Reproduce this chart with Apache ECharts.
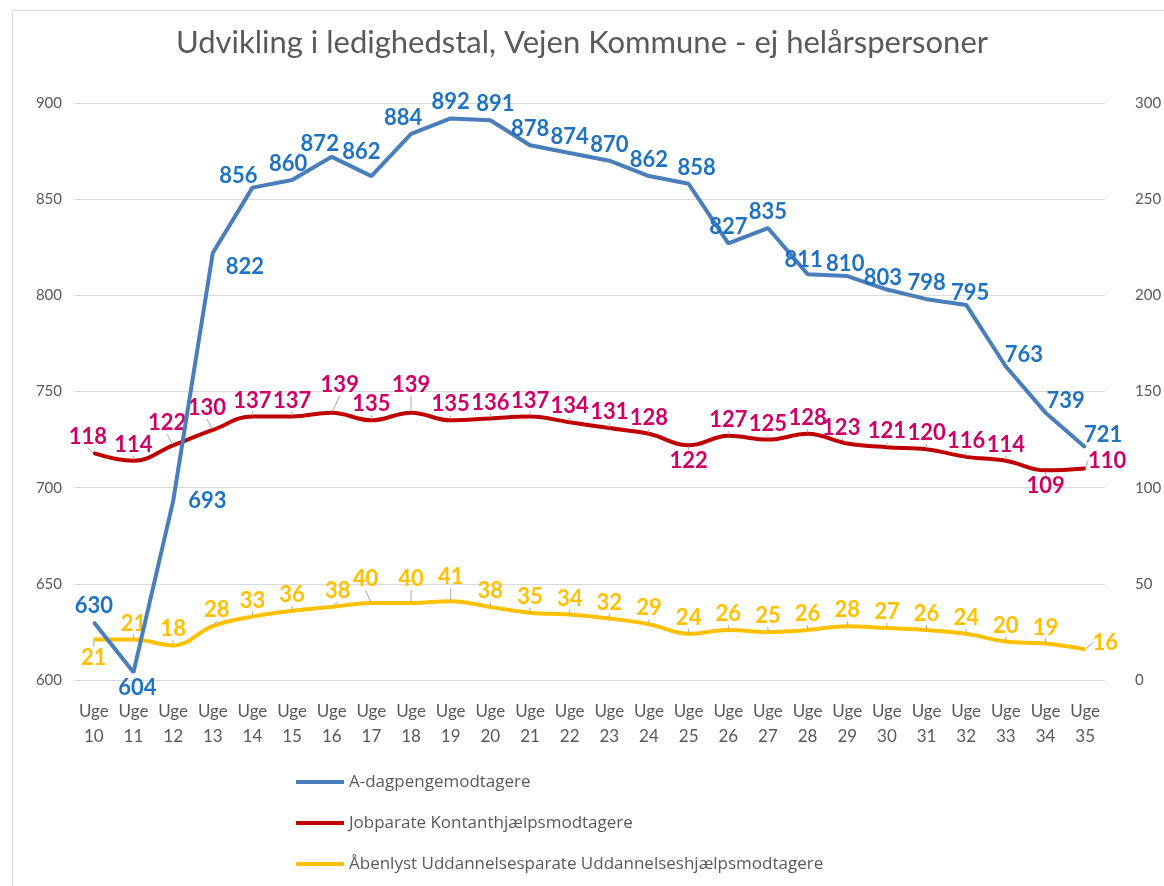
<!DOCTYPE html>
<html>
<head>
<meta charset="utf-8">
<script src="https://cdn.jsdelivr.net/npm/echarts@6/dist/echarts.min.js"></script>
<style>
  html, body { margin: 0; padding: 0; background: #fff; }
  #chart { width: 1164px; height: 886px; }
</style>
</head>
<body>
<div id="chart"></div>
<script>
const weeks = ['Uge 10','Uge 11','Uge 12','Uge 13','Uge 14','Uge 15','Uge 16','Uge 17','Uge 18','Uge 19','Uge 20','Uge 21','Uge 22','Uge 23','Uge 24','Uge 25','Uge 26','Uge 27','Uge 28','Uge 29','Uge 30','Uge 31','Uge 32','Uge 33','Uge 34','Uge 35']
const dagpenge = [630,604,693,822,856,860,872,862,884,892,891,878,874,870,862,858,827,835,811,810,803,798,795,763,739,721]
const kontant = [118,114,122,130,137,137,139,135,139,135,136,137,134,131,128,122,127,125,128,123,121,120,116,114,109,110]
const uddannelse = [21,21,18,28,33,36,38,40,40,41,38,35,34,32,29,24,26,25,26,28,27,26,24,20,19,16]
const seriesNames = ['A-dagpengemodtagere', 'Jobparate Kontanthjælpsmodtagere', 'Åbenlyst Uddannelsesparate Uddannelseshjælpsmodtagere']

// label placement tweaks (index -> [position, dx, dy])
const bluePlace = {
  1: ['bottom', 4, 0], 2: ['right', 10, 0], 3: ['right', 8, 14], 4: ['top', -14, 4],
  5: ['top', -4, 0], 6: ['top', -12, 3], 7: ['top', -10, -8], 8: ['top', -8, 0],
  10: ['top', 5, 0], 15: ['top', 8, 0], 18: ['top', -4, 2], 19: ['top', -2, 4],
  20: ['top', -4, 4], 22: ['top', 4, 4], 23: ['top', 18, 4], 24: ['top', 20, 4], 25: ['top', 18, 4]
}
const redPlace = {
  0: ['top', -6, 0], 2: ['top', -6, -6], 3: ['top', -6, -6], 6: ['top', 8, -12], 8: ['top', 0, -12],
  15: ['bottom', 0, 0], 19: ['top', -6, 0], 24: ['bottom', 0, 0], 25: ['top', 22, 8]
}
const yellowPlace = {
  0: ['bottom', 0, 2], 3: ['top', 4, 0], 6: ['top', 6, 0], 7: ['top', -6, -8], 8: ['top', 0, -8],
  9: ['top', 0, -8], 25: ['top', 20, 10]
}

// blue: plain offsets; red/yellow: moved through labelLayout so leader lines are drawn
function build(values, place, useOffset) {
  return values.map((v, i) => {
    const p = place[i]
    if (!p) return v
    const label = {position: p[0]}
    if (useOffset) label.offset = [p[1], p[2]]
    return {value: v, label: label}
  })
}
function mover(place) {
  return p => {
    const q = place[p.dataIndex]
    return q ? {dx: q[1], dy: q[2]} : {}
  }
}

const myChart = echarts.init(document.getElementById('chart'))
const txt = '#595959'
const font = 'Lato, "Open Sans", sans-serif'

function lineSeries(name, axis, data, color, labelColor, smooth, z) {
  return {
    name: name, type: 'line', yAxisIndex: axis, data: data,
    symbol: 'circle', symbolSize: 2, showSymbol: true, smooth: smooth,
    lineStyle: {color: color, width: 4},
    itemStyle: {color: color},
    emphasis: {disabled: true},
    label: {show: true, position: 'top', distance: 4, color: labelColor, fontSize: 22, fontWeight: 'bold', fontFamily: font},
    z: z
  }
}

const blue = lineSeries(seriesNames[0], 0, build(dagpenge, bluePlace, true), '#4a7ebb', '#1f72c0', false, 3)
const red = lineSeries(seriesNames[1], 1, build(kontant, redPlace, false), '#c00000', '#cc0066', 0.4, 2)
red.labelLine = {show: true, lineStyle: {color: '#a6a6a6', width: 1}}
red.labelLayout = mover(redPlace)
const yellow = lineSeries(seriesNames[2], 1, build(uddannelse, yellowPlace, false), '#ffc000', '#ffc000', 0.4, 1)
yellow.labelLine = {show: true, lineStyle: {color: '#a6a6a6', width: 1}}
yellow.labelLayout = mover(yellowPlace)

myChart.setOption({
  backgroundColor: '#fff',
  textStyle: {fontFamily: font},
  title: {
    text: 'Udvikling i ledighedstal, Vejen Kommune - ej helårspersoner',
    left: 'center', top: 22,
    textStyle: {fontSize: 31, fontWeight: 'normal', color: txt, fontFamily: font}
  },
  graphic: [{
    type: 'rect', left: 10, top: 8,
    shape: {width: 1170, height: 900},
    style: {fill: 'none', stroke: '#d9d9d9', lineWidth: 1}
  }],
  legend: {
    orient: 'vertical', left: 291, top: 767,
    icon: 'rect', itemWidth: 48, itemHeight: 4, itemGap: 21,
    textStyle: {fontSize: 17, color: txt, lineHeight: 20, fontFamily: '"Open Sans", sans-serif'},
    data: seriesNames
  },
  grid: {left: 74, right: 59, top: 103, bottom: 206, outerBoundsMode: 'none'},
  xAxis: {
    type: 'category', data: weeks, boundaryGap: true,
    axisLine: {show: false}, axisTick: {show: false},
    axisLabel: {
      interval: 0, color: txt, fontSize: 17, lineHeight: 25, margin: 19,
      formatter: v => v.replace(' ', '\n')
    }
  },
  yAxis: [{
    type: 'value', min: 600, max: 900, interval: 50,
    axisLine: {show: false}, axisTick: {show: false},
    axisLabel: {color: txt, fontSize: 15, margin: 12},
    splitLine: {lineStyle: {color: '#d9d9d9', width: 1}}
  }, {
    type: 'value', min: 0, max: 300, interval: 50,
    axisLine: {show: false}, axisTick: {show: false},
    axisLabel: {color: txt, fontSize: 15, margin: 30},
    splitLine: {show: false}
  }],
  series: [blue, red, yellow]
})
</script>
</body>
</html>
